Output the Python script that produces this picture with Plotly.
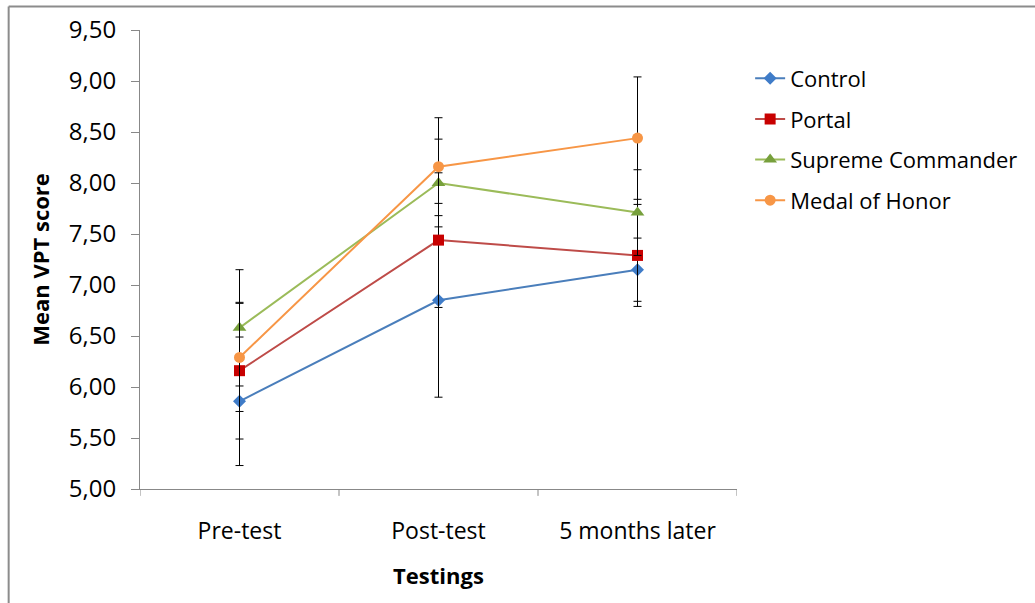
import plotly.graph_objects as go

# Testing sessions on the x axis
testings = ["Pre-test", "Post-test", "5 months later"]

# Mean VPT scores per group
control = [5.86, 6.85, 7.15]
portal = [6.16, 7.44, 7.29]
supreme_commander = [6.58, 8.00, 7.71]
medal_of_honor = [6.29, 8.16, 8.44]

# Error bar half-widths per group
control_err = [0.63, 0.95, 0.31]
portal_err = [0.67, 0.66, 0.50]
supreme_commander_err = [0.57, 0.43, 0.42]
medal_of_honor_err = [0.53, 0.48, 0.60]

y_ticks = [5.0, 5.5, 6.0, 6.5, 7.0, 7.5, 8.0, 8.5, 9.0, 9.5]
y_tick_text = ["5,00", "5,50", "6,00", "6,50", "7,00", "7,50", "8,00", "8,50", "9,00", "9,50"]

series = [
    ("Control", control, control_err, "#4A7EBB", "#3F7CC8", "diamond", 10),
    ("Portal", portal, portal_err, "#BE4B48", "#C80000", "square", 11),
    ("Supreme Commander", supreme_commander, supreme_commander_err, "#9BBB59", "#77A03C", "triangle-up", 12),
    ("Medal of Honor", medal_of_honor, medal_of_honor_err, "#F79646", "#F79646", "circle", 11),
]

font_family = "'Open Sans', Lato, sans-serif"

fig = go.Figure()
for name, vals, errs, line_col, mk_col, symbol, size in series:
    fig.add_trace(go.Scatter(
        x=testings,
        y=vals,
        name=name,
        legendgroup=name,
        mode="lines+markers",
        line=dict(color=line_col, width=2),
        marker=dict(symbol=symbol, size=size, color=mk_col),
        error_y=dict(type="data", array=errs, visible=True,
                     color="#000000", thickness=1, width=4),
    ))

fig.update_layout(
    width=1035,
    height=603,
    paper_bgcolor="white",
    plot_bgcolor="white",
    margin=dict(l=140, r=295, t=30, b=114),
    font=dict(family=font_family, size=22, color="#000000"),
    showlegend=True,
    legend=dict(
        x=1.022, y=0.94, xanchor="left", yanchor="top",
        font=dict(size=22, family=font_family),
        tracegroupgap=9,
        itemwidth=30,
        bgcolor="rgba(0,0,0,0)",
    ),
    xaxis=dict(
        type="category",
        range=[-0.5, 2.5],
        showline=True, linecolor="#888888", linewidth=1,
        ticks="", showgrid=False,
        tickfont=dict(size=23),
        ticklabelstandoff=21,
        title=dict(text="<b>Testings</b>", font=dict(size=22), standoff=24),
        zeroline=False,
    ),
    yaxis=dict(
        range=[5.0, 9.5],
        tickvals=y_ticks,
        ticktext=y_tick_text,
        showline=True, linecolor="#888888", linewidth=1,
        ticks="outside", ticklen=8, tickcolor="#888888",
        ticklabelstandoff=10,
        showgrid=False, zeroline=False,
        tickfont=dict(size=24),
        title=dict(text="<b>Mean VPT score</b>", font=dict(size=22), standoff=13),
    ),
)

# Category boundary tick marks below the x axis
for xb in [-0.5, 0.5, 1.5, 2.5]:
    fig.add_shape(type="line", xref="x", yref="paper",
                  x0=xb, x1=xb, y0=0, y1=-0.015,
                  line=dict(color="#888888", width=1))

# Chart area frame (top and left edges)
fig.add_shape(type="line", xref="paper", yref="paper",
              x0=-0.22, x1=1.5, y0=1.051, y1=1.051,
              line=dict(color="#8C8C8C", width=2))
fig.add_shape(type="line", xref="paper", yref="paper",
              x0=-0.22, x1=-0.22, y0=1.051, y1=-0.26,
              line=dict(color="#8C8C8C", width=2))

fig.write_html("out.html")
